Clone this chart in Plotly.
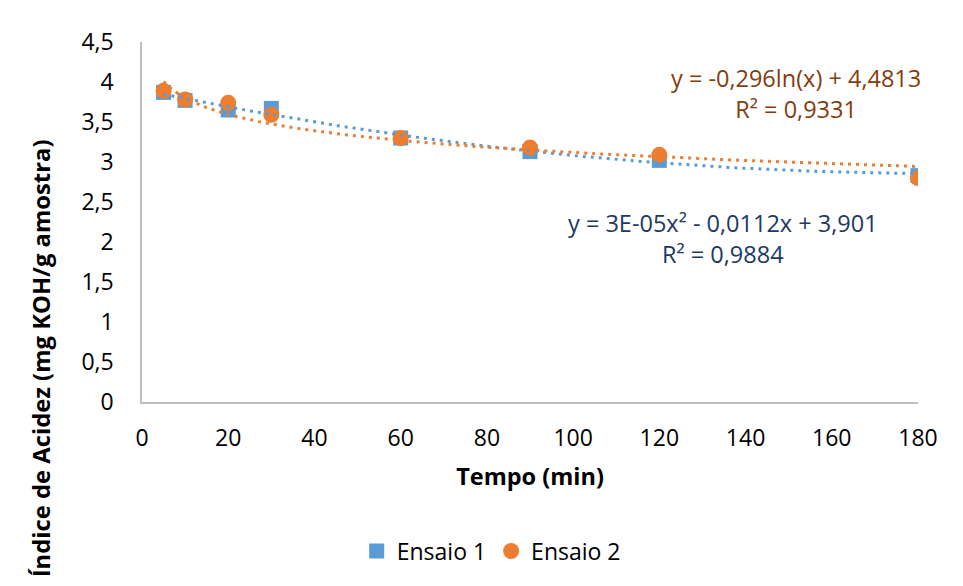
import numpy as np
import plotly.graph_objects as go

# Data
tempo = [5, 10, 20, 30, 60, 90, 120, 180]
ensaio1 = [3.87, 3.77, 3.65, 3.67, 3.30, 3.13, 3.02, 2.83]
ensaio2 = [3.89, 3.78, 3.74, 3.59, 3.30, 3.18, 3.09, 2.80]

# Trendline coefficients as printed on the chart
poly_coef = [3e-05, -0.0112, 3.901]      # Ensaio 1: quadratic
log_coef = [-0.296, 4.4813]              # Ensaio 2: logarithmic
eq1_text = "y = 3E-05x² - 0,0112x + 3,901<br>R² = 0,9884"
eq2_text = "y = -0,296ln(x) + 4,4813<br>R² = 0,9331"

x_ticks = [0, 20, 40, 60, 80, 100, 120, 140, 160, 180]
y_ticks = [0, 0.5, 1, 1.5, 2, 2.5, 3, 3.5, 4, 4.5]
y_tick_text = ["0", "0,5", "1", "1,5", "2", "2,5", "3", "3,5", "4", "4,5"]

BLUE = "#5B9BD5"
ORANGE = "#ED7D31"
FONT = "Open Sans"

xt = np.linspace(min(tempo), max(tempo), 200)
y_poly = np.polyval(poly_coef, xt)
y_log = log_coef[0] * np.log(xt) + log_coef[1]

fig = go.Figure()
fig.add_trace(go.Scatter(x=tempo, y=ensaio1, mode="markers", name="Ensaio 1",
                         marker=dict(symbol="square", size=15, color=BLUE)))
fig.add_trace(go.Scatter(x=tempo, y=ensaio2, mode="markers", name="Ensaio 2",
                         marker=dict(symbol="circle", size=16, color=ORANGE)))
fig.add_trace(go.Scatter(x=xt, y=y_poly, mode="lines", showlegend=False, hoverinfo="skip",
                         line=dict(color=BLUE, width=3, dash="3px,5px")))
fig.add_trace(go.Scatter(x=xt, y=y_log, mode="lines", showlegend=False, hoverinfo="skip",
                         line=dict(color=ORANGE, width=3, dash="3px,5px")))

fig.add_annotation(x=151.7, y=3.856, xref="x", yref="y", text=eq2_text, showarrow=False,
                   align="center", font=dict(family=FONT, size=23.5, color="#843C0C"))
fig.add_annotation(x=134.8, y=2.05, xref="x", yref="y", text=eq1_text, showarrow=False,
                   align="center", font=dict(family=FONT, size=23.5, color="#203864"))
# Y axis title (placed as in the reference, below the plot centre)
fig.add_annotation(x=-0.129, y=0.121, xref="paper", yref="paper", textangle=-90,
                   text="<b>Índice de Acidez (mg KOH/g amostra)</b>", showarrow=False,
                   xanchor="center", yanchor="middle",
                   font=dict(family=FONT, size=23.8, color="black"))

fig.update_layout(
    width=963, height=586,
    margin=dict(l=142, r=45, t=42, b=184),
    paper_bgcolor="white", plot_bgcolor="white",
    font=dict(family=FONT, size=23, color="black"),
    showlegend=True,
    legend=dict(orientation="h", x=0.45, xanchor="center", y=-0.414, yanchor="middle",
                font=dict(family=FONT, size=23), itemwidth=30, traceorder="normal"),
)
fig.update_xaxes(range=[0, 180], tickvals=x_ticks, showgrid=False, zeroline=False,
                 showline=True, linecolor="#BFBFBF", linewidth=1.5, ticks="",
                 ticklabelstandoff=15,
                 title=dict(text="<b>Tempo (min)</b>", font=dict(family=FONT, size=23.5), standoff=16))
fig.update_yaxes(range=[0, 4.5], tickvals=y_ticks, ticktext=y_tick_text, showgrid=False,
                 zeroline=False, showline=True, linecolor="#BFBFBF", linewidth=1.5, ticks="",
                 ticklabelstandoff=22)

fig.write_html("out.html")
